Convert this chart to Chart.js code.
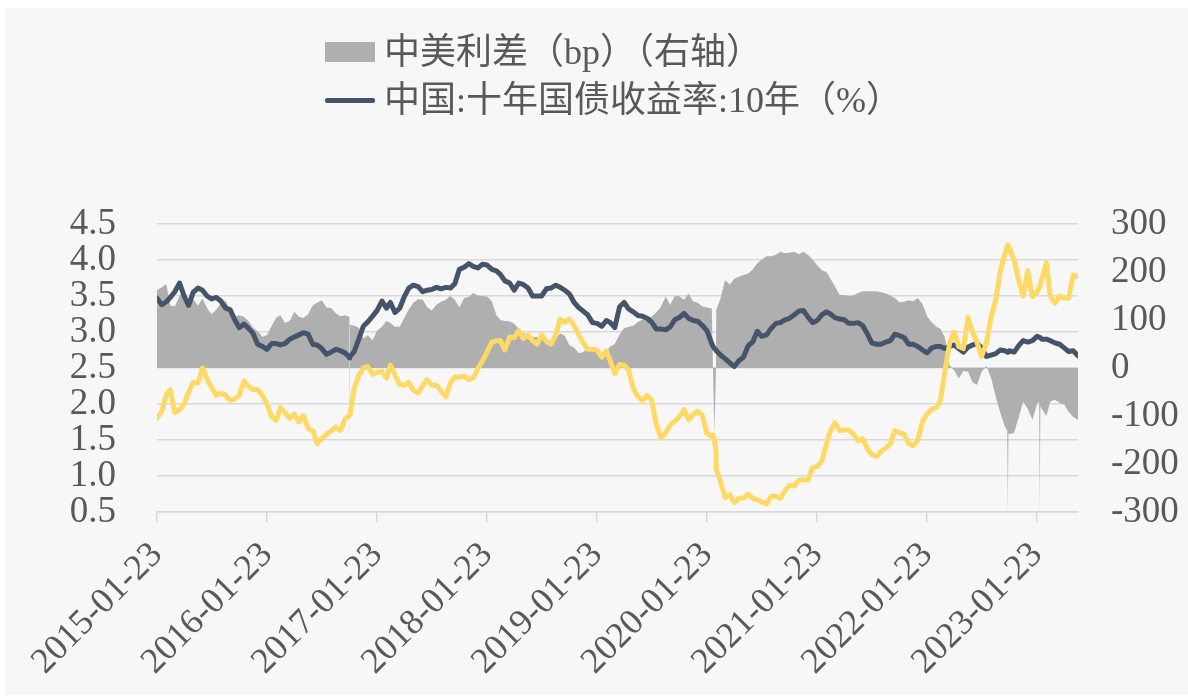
<!DOCTYPE html>
<html>
<head>
<meta charset="utf-8">
<script src="https://cdn.jsdelivr.net/npm/chart.js@4/dist/chart.umd.min.js"></script>
<style>
  html, body { margin: 0; padding: 0; background: #ffffff; }
  #wrap { position: relative; width: 1188px; height: 698px; overflow: hidden; }
  canvas { position: absolute; left: 0; top: 0; }
  .lg-text { position: absolute; font-family: 'Liberation Serif', 'Noto Sans CJK SC', serif; font-size: 36px; line-height: 42px; color: #595959; white-space: nowrap; }
  .lg-box { position: absolute; }
</style>
</head>
<body>
<div id="wrap">
  <canvas id="c" width="1188" height="698"></canvas>
  <div class="lg-box" style="left:325px;top:42px;width:50px;height:20px;background:#afafaf;"></div>
  <div class="lg-text" style="left:384px;top:31px;">中美利差（bp）（右轴）</div>
  <div class="lg-box" style="left:325px;top:98px;width:50px;height:5px;background:#44546a;border-radius:2px;"></div>
  <div class="lg-text" style="left:384px;top:79px;">中国:十年国债收益率:10年（%）</div>
</div>
<script>
// ---- categories (dates) ----
const dates = [
'2015-01-23','2015-02-08','2015-02-23','2015-03-08','2015-03-23','2015-04-08','2015-04-23','2015-05-08','2015-05-23','2015-06-08','2015-06-23','2015-07-08','2015-07-23','2015-08-08','2015-08-23','2015-09-08','2015-09-23','2015-10-08','2015-10-23','2015-11-08','2015-11-23','2015-12-08','2015-12-23','2016-01-08',
'2016-01-23','2016-02-08','2016-02-23','2016-03-08','2016-03-23','2016-04-08','2016-04-23','2016-05-08','2016-05-23','2016-06-08','2016-06-23','2016-07-08','2016-07-23','2016-08-08','2016-08-23','2016-09-08','2016-09-23','2016-10-08','2016-10-23','2016-10-24','2016-10-25','2016-11-08','2016-11-23','2016-12-08','2016-12-23','2017-01-08',
'2017-01-23','2017-02-08','2017-02-23','2017-03-08','2017-03-23','2017-04-08','2017-04-23','2017-05-08','2017-05-23','2017-06-08','2017-06-23','2017-07-08','2017-07-23','2017-08-08','2017-08-23','2017-09-08','2017-09-23','2017-10-08','2017-10-23','2017-11-08','2017-11-23','2017-12-08','2017-12-23','2018-01-08',
'2018-01-23','2018-02-08','2018-02-23','2018-03-08','2018-03-23','2018-04-08','2018-04-23','2018-05-08','2018-05-23','2018-06-08','2018-06-23','2018-07-08','2018-07-23','2018-08-08','2018-08-23','2018-09-08','2018-09-23','2018-10-08','2018-10-23','2018-11-08','2018-11-23','2018-12-08','2018-12-23','2019-01-08',
'2019-01-23','2019-02-08','2019-02-23','2019-03-08','2019-03-23','2019-04-08','2019-04-23','2019-05-08','2019-05-23','2019-06-08','2019-06-23','2019-07-08','2019-07-23','2019-08-08','2019-08-23','2019-09-08','2019-09-23','2019-10-08','2019-10-23','2019-11-08','2019-11-23','2019-12-08','2019-12-23','2020-01-08',
'2020-01-23','2020-02-08','2020-02-12','2020-02-17','2020-02-22','2020-02-23','2020-03-08','2020-03-23','2020-04-08','2020-04-23','2020-05-08','2020-05-23','2020-06-08','2020-06-23','2020-07-08','2020-07-23','2020-08-08','2020-08-23','2020-09-08','2020-09-23','2020-10-08','2020-10-23','2020-11-08','2020-11-23','2020-12-08','2020-12-23','2021-01-08',
'2021-01-23','2021-02-08','2021-02-23','2021-03-08','2021-03-23','2021-04-08','2021-04-23','2021-05-08','2021-05-23','2021-06-08','2021-06-23','2021-07-08','2021-07-23','2021-08-08','2021-08-23','2021-09-08','2021-09-23','2021-10-08','2021-10-23','2021-11-08','2021-11-23','2021-12-08','2021-12-23','2022-01-08',
'2022-01-23','2022-02-08','2022-02-23','2022-03-08','2022-03-23','2022-04-08','2022-04-23','2022-05-08','2022-05-23','2022-06-08','2022-06-23','2022-07-08','2022-07-23','2022-08-08','2022-08-23','2022-09-08','2022-09-23','2022-10-08','2022-10-16','2022-10-18','2022-10-20','2022-10-23','2022-11-08','2022-11-23','2022-12-08','2022-12-23','2023-01-08',
'2023-01-23','2023-01-30','2023-02-01','2023-02-03','2023-02-08','2023-02-23','2023-03-08','2023-03-23','2023-04-08','2023-04-23','2023-05-08','2023-05-23','2023-06-08'
];

// ---- 中国:十年国债收益率 (%) ----
const cn10y = [
3.47,3.38,3.42,3.48,3.56,3.68,3.50,3.37,3.55,3.61,3.58,3.50,3.46,3.48,3.43,3.33,3.31,3.17,3.06,3.11,3.05,2.98,2.83,2.80,
2.76,2.84,2.84,2.82,2.84,2.90,2.93,2.96,2.99,2.97,2.83,2.82,2.77,2.69,2.72,2.76,2.74,2.71,2.65,2.64,2.66,2.73,2.90,3.08,3.14,3.22,
3.30,3.43,3.33,3.41,3.27,3.33,3.49,3.61,3.65,3.63,3.56,3.58,3.59,3.62,3.60,3.62,3.61,3.67,3.87,3.90,3.95,3.91,3.89,3.94,
3.93,3.87,3.85,3.80,3.71,3.68,3.58,3.68,3.66,3.61,3.50,3.50,3.50,3.60,3.61,3.65,3.62,3.58,3.53,3.41,3.34,3.29,3.24,3.13,
3.12,3.08,3.16,3.13,3.06,3.35,3.41,3.32,3.28,3.23,3.22,3.19,3.14,3.04,3.04,3.03,3.07,3.17,3.20,3.26,3.19,3.16,3.15,3.09,
3.02,2.84,2.80,2.77,2.75,2.74,2.68,2.63,2.57,2.52,2.60,2.65,2.81,2.86,3.01,2.94,2.96,3.05,3.12,3.13,3.17,3.19,3.24,3.29,3.30,3.21,3.13,
3.16,3.24,3.28,3.25,3.20,3.18,3.17,3.12,3.12,3.13,3.09,2.98,2.85,2.83,2.83,2.86,2.88,2.97,2.95,2.92,2.83,2.83,2.80,2.75,
2.71,2.78,2.80,2.80,2.77,2.80,2.82,2.77,2.72,2.79,2.82,2.84,2.78,2.66,2.68,2.70,2.75,2.74,2.72,2.72,2.72,2.74,2.72,2.81,2.88,2.86,2.88,
2.94,2.93,2.93,2.92,2.90,2.90,2.88,2.85,2.83,2.78,2.73,2.74,2.67
];

// ---- 美国十年国债收益率 (%) (yellow line) ----
const us10y = [
1.80,1.90,2.13,2.20,1.88,1.92,2.00,2.16,2.30,2.29,2.50,2.35,2.23,2.12,2.15,2.12,2.05,2.07,2.12,2.32,2.24,2.20,2.20,2.12,
2.00,1.82,1.77,1.95,1.88,1.80,1.86,1.75,1.84,1.66,1.63,1.45,1.52,1.58,1.63,1.68,1.63,1.79,1.84,1.84,1.85,2.22,2.40,2.50,2.52,2.41,
2.44,2.45,2.36,2.54,2.40,2.27,2.26,2.30,2.19,2.15,2.25,2.34,2.26,2.26,2.18,2.10,2.29,2.38,2.37,2.39,2.34,2.36,2.49,2.60,
2.72,2.86,2.88,2.88,2.75,2.93,2.92,3.02,2.91,2.96,2.88,2.83,2.96,2.87,2.83,2.96,3.18,3.13,3.18,3.09,2.96,2.85,2.76,2.76,
2.75,2.65,2.74,2.60,2.42,2.55,2.54,2.47,2.22,2.10,2.05,2.12,2.06,1.72,1.53,1.60,1.71,1.76,1.82,1.92,1.78,1.85,1.90,1.84,
1.59,1.55,1.57,1.50,1.35,1.10,0.92,0.70,0.74,0.63,0.69,0.69,0.75,0.69,0.67,0.64,0.61,0.72,0.72,0.69,0.80,0.87,0.86,0.94,0.95,0.94,1.12,
1.13,1.21,1.45,1.63,1.74,1.63,1.64,1.64,1.58,1.49,1.52,1.38,1.30,1.27,1.34,1.39,1.45,1.63,1.60,1.58,1.45,1.42,1.50,1.76,
1.86,1.93,1.95,2.05,2.45,2.85,3.00,2.80,2.77,3.20,3.00,2.85,2.66,2.85,3.20,3.45,3.85,4.08,4.19,4.21,4.20,4.16,4.00,3.72,3.50,3.85,3.49,
3.55,3.62,3.64,3.66,3.74,3.96,3.50,3.40,3.50,3.47,3.47,3.79,3.77
];

// ---- 中美利差 (bp), right axis ----
const spreadBp = [
162,168,175,130,128,150,165,125,143,130,145,125,112,122,135,140,120,107,110,106,98,84,77,65,
68,88,105,110,94,98,117,107,104,112,130,136,141,126,125,114,108,110,107,-171,90,88,84,62,68,58,
78,86,98,94,86,86,104,122,136,143,142,127,120,132,138,142,150,142,126,146,148,156,151,150,
149,139,110,100,98,97,92,82,73,70,65,64,68,58,53,63,72,67,48,42,31,33,42,36,
31,32,36,45,50,70,83,86,88,96,101,104,107,116,127,149,131,150,150,142,155,139,136,128,
126,124,0,-136,0,121,145,183,174,186,190,194,197,205,218,226,233,233,236,242,239,240,242,237,242,236,226,
214,203,200,186,170,152,152,150,151,156,160,160,160,160,158,155,151,146,137,138,141,139,146,133,
108,95,86,82,64,5,-5,-22,-6,-8,-30,-35,-8,4,-20,-60,-93,-122,-130,-303,-135,-138,-135,-103,-70,-85,-108,
-75,-70,-303,-80,-85,-100,-70,-66,-73,-76,-91,-102,-108
];

// ---- tick labels ----
const xTickLabels = ['2015-01-23','2016-01-23','2017-01-23','2018-01-23','2019-01-23','2020-01-23','2021-01-23','2022-01-23','2023-01-23'];
const leftTicks = [0.5, 4.5, 0.5];    // min, max, step (%)
const rightTicks = [-300, 300, 100];  // min, max, step (bp)

if (cn10y.length !== dates.length || us10y.length !== dates.length || spreadBp.length !== dates.length) {
  console.error('length mismatch', dates.length, cn10y.length, us10y.length, spreadBp.length);
}

function dayNum(s) {
  const p = s.split('-').map(Number);
  return Date.UTC(p[0], p[1] - 1, p[2]) / 86400000;
}
const pts = arr => dates.map((d, i) => ({ x: dayNum(d), y: arr[i] }));

const serif = "'Liberation Serif', 'Times New Roman', serif";
const labelColor = '#595959';
const gridColor = '#d9d9d9';

const bgPlugin = {
  id: 'panelBg',
  beforeDraw(chart) {
    const ctx = chart.ctx;
    ctx.save();
    ctx.fillStyle = '#ffffff';
    ctx.fillRect(0, 0, chart.width, chart.height);
    ctx.fillStyle = '#f7f7f7';
    ctx.fillRect(5, 8, chart.width - 5, 687);
    ctx.restore();
  }
};

new Chart(document.getElementById('c'), {
  type: 'line',
  data: {
    datasets: [
      {
        label: '中美利差（bp）（右轴）',
        data: pts(spreadBp),
        yAxisID: 'y1',
        fill: 'origin',
        backgroundColor: '#afafaf',
        borderColor: 'rgba(0,0,0,0)',
        borderWidth: 0,
        pointRadius: 0,
        tension: 0,
        order: 3
      },
      {
        label: '中国:十年国债收益率:10年（%）',
        data: pts(cn10y),
        yAxisID: 'y',
        borderColor: '#44546a',
        borderWidth: 5,
        pointRadius: 0,
        tension: 0,
        fill: false,
        borderJoinStyle: 'round',
        borderCapStyle: 'round',
        order: 2
      },
      {
        label: '美国:国债收益率:10年（%）',
        data: pts(us10y),
        yAxisID: 'y',
        borderColor: '#ffd966',
        borderWidth: 5,
        pointRadius: 0,
        tension: 0,
        fill: false,
        borderJoinStyle: 'round',
        borderCapStyle: 'round',
        order: 1
      }
    ]
  },
  options: {
    responsive: false,
    animation: false,
    devicePixelRatio: 1,
    layout: { padding: { top: 224, left: 0, right: 0, bottom: 0 } },
    plugins: { legend: { display: false }, tooltip: { enabled: false } },
    scales: {
      x: {
        type: 'linear',
        position: 'bottom',
        min: dayNum(dates[0]),
        max: dayNum(dates[dates.length - 1]),
        afterBuildTicks: s => { s.ticks = xTickLabels.map(d => ({ value: dayNum(d) })); },
        afterFit: s => { s.height = 186; },
        ticks: {
          autoSkip: false,
          minRotation: 45,
          maxRotation: 45,
          padding: 12,
          color: labelColor,
          font: { family: serif, size: 36 },
          callback: (v, i) => xTickLabels[i]
        },
        grid: { display: true, drawOnChartArea: false, drawTicks: true, tickLength: 10, color: gridColor, lineWidth: 1.5 },
        border: { display: true, color: gridColor, width: 1.5 }
      },
      y: {
        type: 'linear',
        position: 'left',
        min: leftTicks[0],
        max: leftTicks[1],
        afterFit: s => { s.width = 157; },
        ticks: {
          autoSkip: false,
          stepSize: leftTicks[2],
          padding: 41,
          color: labelColor,
          font: { family: serif, size: 37 },
          callback: v => Number(v).toFixed(1)
        },
        grid: { color: gridColor, lineWidth: 1.5, drawTicks: false },
        border: { display: false }
      },
      y1: {
        type: 'linear',
        position: 'right',
        min: rightTicks[0],
        max: rightTicks[1],
        afterFit: s => { s.width = 110; },
        ticks: {
          autoSkip: false,
          stepSize: rightTicks[2],
          padding: 33,
          color: labelColor,
          font: { family: serif, size: 37 },
          callback: v => String(v)
        },
        grid: { display: false, drawTicks: false },
        border: { display: false }
      }
    }
  },
  plugins: [bgPlugin]
});
</script>
</body>
</html>
